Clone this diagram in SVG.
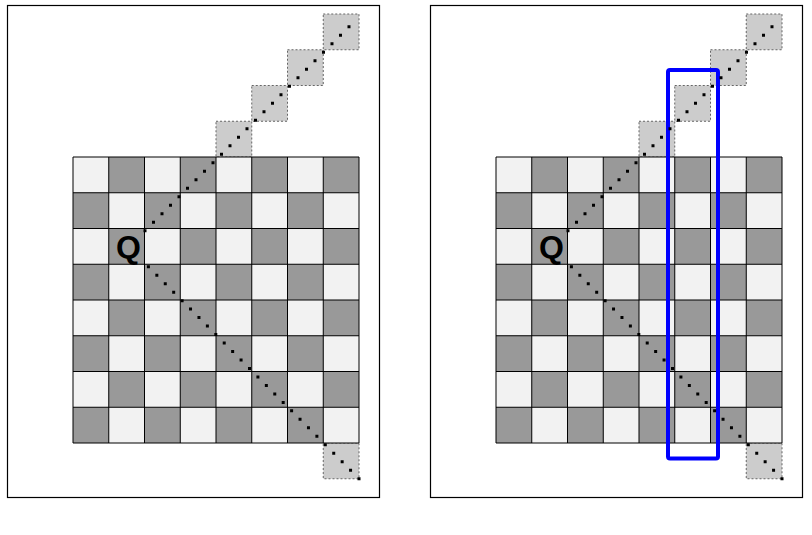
<svg xmlns="http://www.w3.org/2000/svg" xmlns:xlink="http://www.w3.org/1999/xlink" width="812" height="535" viewBox="0 0 812 535">
<style>
.frame{fill:#fff;stroke:#000;stroke-width:1.2}
.lt{fill:#f2f2f2}
.dk{fill:#999999}
.grid{fill:none;stroke:#000;stroke-width:1}
.ex{fill:#cccccc;stroke:#666;stroke-width:1;stroke-dasharray:2 2}
.dots{fill:none;stroke:#000;stroke-width:3;stroke-linecap:square}
.q{font-family:"Liberation Sans",Arial,sans-serif;font-weight:bold;font-size:32px;fill:#000;text-anchor:middle}
.sel{fill:none;stroke:#0000ff;stroke-width:4}
</style>
<defs>
<g id="board">
<rect class="lt" x="0" y="0" width="286" height="286"/>
<g class="dk">
<rect x="35.75" y="0" width="35.75" height="35.75"/><rect x="107.25" y="0" width="35.75" height="35.75"/><rect x="178.75" y="0" width="35.75" height="35.75"/><rect x="250.25" y="0" width="35.75" height="35.75"/>
<rect x="0" y="35.75" width="35.75" height="35.75"/><rect x="71.5" y="35.75" width="35.75" height="35.75"/><rect x="143" y="35.75" width="35.75" height="35.75"/><rect x="214.5" y="35.75" width="35.75" height="35.75"/>
<rect x="35.75" y="71.5" width="35.75" height="35.75"/><rect x="107.25" y="71.5" width="35.75" height="35.75"/><rect x="178.75" y="71.5" width="35.75" height="35.75"/><rect x="250.25" y="71.5" width="35.75" height="35.75"/>
<rect x="0" y="107.25" width="35.75" height="35.75"/><rect x="71.5" y="107.25" width="35.75" height="35.75"/><rect x="143" y="107.25" width="35.75" height="35.75"/><rect x="214.5" y="107.25" width="35.75" height="35.75"/>
<rect x="35.75" y="143" width="35.75" height="35.75"/><rect x="107.25" y="143" width="35.75" height="35.75"/><rect x="178.75" y="143" width="35.75" height="35.75"/><rect x="250.25" y="143" width="35.75" height="35.75"/>
<rect x="0" y="178.75" width="35.75" height="35.75"/><rect x="71.5" y="178.75" width="35.75" height="35.75"/><rect x="143" y="178.75" width="35.75" height="35.75"/><rect x="214.5" y="178.75" width="35.75" height="35.75"/>
<rect x="35.75" y="214.5" width="35.75" height="35.75"/><rect x="107.25" y="214.5" width="35.75" height="35.75"/><rect x="178.75" y="214.5" width="35.75" height="35.75"/><rect x="250.25" y="214.5" width="35.75" height="35.75"/>
<rect x="0" y="250.25" width="35.75" height="35.75"/><rect x="71.5" y="250.25" width="35.75" height="35.75"/><rect x="143" y="250.25" width="35.75" height="35.75"/><rect x="214.5" y="250.25" width="35.75" height="35.75"/>
</g>
<path class="grid" d="M0 0H286M0 35.75H286M0 71.5H286M0 107.25H286M0 143H286M0 178.75H286M0 214.5H286M0 250.25H286M0 286H286M0 0V286M35.75 0V286M71.5 0V286M107.25 0V286M143 0V286M178.75 0V286M214.5 0V286M250.25 0V286M286 0V286"/>
</g>
<g id="extras">
<rect class="ex" x="323.25" y="14" width="35.75" height="35.75"/>
<rect class="ex" x="287.5" y="49.75" width="35.75" height="35.75"/>
<rect class="ex" x="251.75" y="85.5" width="35.75" height="35.75"/>
<rect class="ex" x="216" y="121.25" width="35.75" height="35.75"/>
<rect class="ex" x="323.25" y="443" width="35.75" height="35.75"/>
</g>
</defs>

<g id="panel-left">
<rect class="frame" x="7.5" y="5.5" width="372" height="492"/>
<use xlink:href="#extras"/>
<use xlink:href="#board" x="73" y="157"/>
<text class="q" x="128.5" y="258">Q</text>
</g>

<g id="panel-right">
<rect class="frame" x="430.5" y="5.5" width="372" height="492"/>
<use xlink:href="#extras" x="423"/>
<use xlink:href="#board" x="496" y="157"/>
<rect id="column-highlight" class="sel" x="668" y="70" width="50" height="388.5" rx="2"/>
<text class="q" x="551.5" y="258">Q</text>
</g>

<g id="connectors">
<path class="dots" stroke-dasharray="0 12.02" d="M145 230.7L349 26.7"/>
<path class="dots" stroke-dasharray="0 11.952" d="M359 478.7L147.7 266"/>
<path class="dots" stroke-dasharray="0 12.02" d="M568 230.7L772 26.7"/>
<path class="dots" stroke-dasharray="0 11.952" d="M782 478.7L570.7 266"/>
</g>
</svg>
